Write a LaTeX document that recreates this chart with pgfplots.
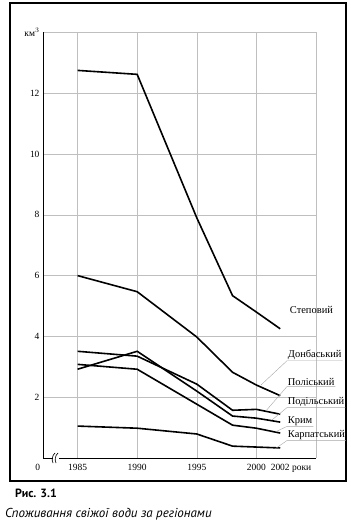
\documentclass[border=0pt]{standalone}
\usepackage{pgfplots}
\pgfplotsset{compat=1.18}
\usepackage{fontspec}
\setmainfont{Liberation Serif}
\newfontfamily\capfont{PT Sans}
\begin{document}
\begin{tikzpicture}
\useasboundingbox (0bp,0bp) rectangle (351bp,524bp);
\draw[line width=1.3bp] (10bp,43bp) rectangle (346bp,521bp);
\begin{axis}[at={(43bp,66bp)}, anchor=south west, scale only axis,
 width=273bp, height=425.6bp,
 xmin=1982.1, xmax=2005, ymin=0, ymax=14,
 axis x line=bottom, axis y line=left, axis line style={-, line width=1bp},
 xtick={1985,1990,1995,2000,2005}, xticklabels={1985,1990,1995,2000,},
 extra x ticks={1982.1,2002}, extra x tick labels={\llap{0\hspace{3bp}},2002\rlap{ роки}},
 extra x tick style={grid=none},
 ytick={2,4,6,8,10,12,14}, yticklabels={2,4,6,8,10,12,км$^3$},
 grid=major, grid style={gray!50, line width=0.4bp},
 major tick length=0pt,
 tick label style={font=\fontsize{9.5}{11}\selectfont},
 xticklabel style={yshift=-3bp},
 /pgf/number format/assume math mode=true,
 clip=false,
]
\tikzset{pl/.style={black, line width=1.6bp, mark=none}}
\addplot[pl] coordinates {(1985,12.75)(1990,12.62)(1995,7.9)(1998,5.34)(2000,4.8)(2002,4.25)};
\addplot[pl] coordinates {(1985,6.0)(1990,5.47)(1995,3.98)(1998,2.82)(2000,2.4)(2002,2.05)};
\addplot[pl] coordinates {(1985,3.51)(1990,3.35)(1995,2.43)(1998,1.57)(2000,1.6)(2002,1.44)};
\addplot[pl] coordinates {(1985,2.92)(1990,3.51)(1995,2.2)(1998,1.38)(2000,1.31)(2002,1.18)};
\addplot[pl] coordinates {(1985,3.08)(1990,2.92)(1995,1.77)(1998,1.08)(2000,0.98)(2002,0.82)};
\addplot[pl] coordinates {(1985,1.05)(1990,0.98)(1995,0.79)(1998,0.39)(2000,0.36)(2002,0.33)};
% break mark
\fill[white] ([xshift=-3bp,yshift=-1.5bp]axis cs:1983.15,0) rectangle ([xshift=3bp,yshift=1.5bp]axis cs:1983.15,0);
\draw[line width=0.6bp] ([xshift=-2.5bp,yshift=-5bp]axis cs:1983.15,0) to[bend left=35] ([xshift=-0.5bp,yshift=5bp]axis cs:1983.15,0);
\draw[line width=0.6bp] ([xshift=0.5bp,yshift=-5bp]axis cs:1983.15,0) to[bend left=35] ([xshift=2.5bp,yshift=5bp]axis cs:1983.15,0);
% labels
\tikzset{lab/.style={anchor=west, inner sep=0.8bp, font=\fontsize{10.5}{11}\selectfont}}
\node[lab] at (axis cs:2002.73,4.87) {Степовий};
\node[lab,name=don] at (axis cs:2002.56,3.39) {Донбаський};
\node[lab,name=pol] at (axis cs:2002.56,2.50) {Поліський};
\node[lab,name=pod] at (axis cs:2002.56,1.84) {Подільський};
\node[lab,name=kry] at (axis cs:2002.56,1.22) {Крим};
\node[lab,name=kar] at (axis cs:2002.56,0.76) {Карпатський};
\draw[gray!70, line width=0.4bp] (don.south east) -- (don.south west) -- (axis cs:2000.38,2.40);
\draw[gray!70, line width=0.4bp] (pol.south east) -- (pol.south west) -- (axis cs:2000.8,1.55);
\draw[gray!70, line width=0.4bp] (pod.south east) -- (pod.south west) -- (axis cs:2001.3,1.25);
\draw[gray!70, line width=0.4bp] (kry.south east) -- (kry.south west) -- (axis cs:2001.6,0.86);
\draw[gray!70, line width=0.4bp] (kar.south east) -- (kar.south west) -- (axis cs:2001.6,0.31);
\end{axis}
\node[anchor=base west, inner sep=0pt, font=\capfont\bfseries\fontsize{12}{13}\selectfont] at (15bp,27bp) {Рис. 3.1};
\node[anchor=base west, inner sep=0pt, font=\capfont\itshape\fontsize{13}{14}\selectfont] at (5bp,7bp) {Споживання свіжої води за регіонами};
\end{tikzpicture}
\end{document}
